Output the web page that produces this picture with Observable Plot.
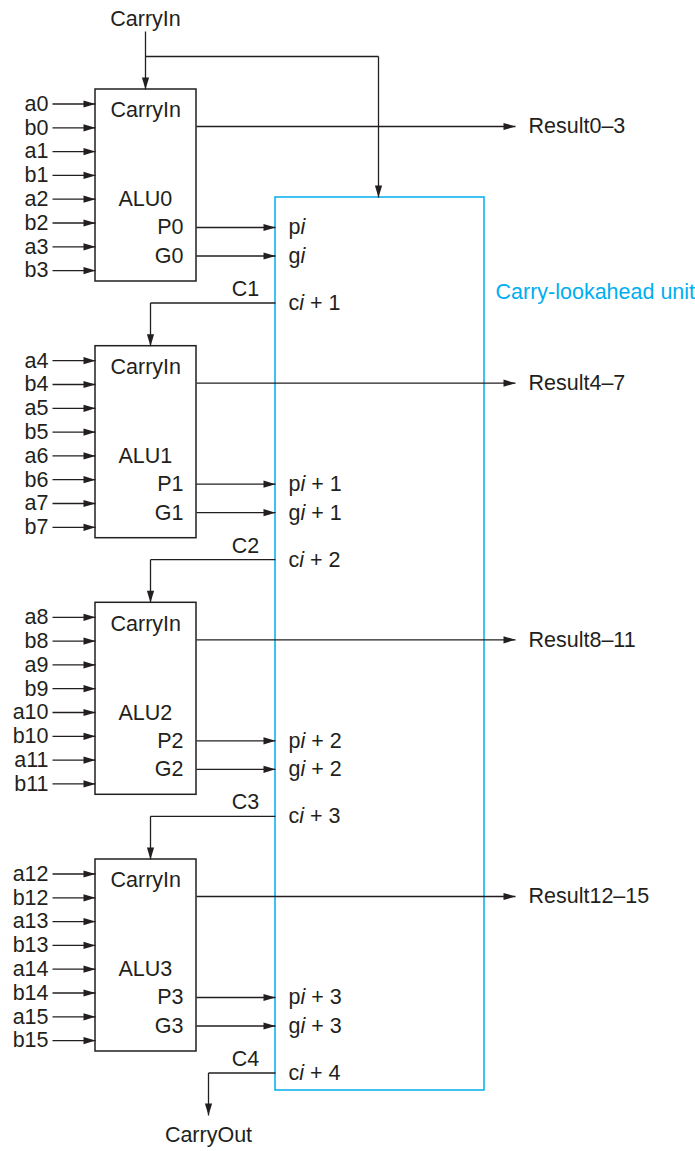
<!DOCTYPE html>
<html>
<head>
<meta charset="utf-8">
<script src="https://cdn.jsdelivr.net/npm/d3@7"></script>
<script src="https://cdn.jsdelivr.net/npm/@observablehq/plot@0.6"></script>
<style>
  html, body { margin: 0; padding: 0; background: #fff; }
  #chart svg { display: block; }
</style>
</head>
<body>
<div id="chart"></div>
<script>
// ---- Diagram content ----
const topCarryLabel = "CarryIn";
const aluNames = ["ALU0", "ALU1", "ALU2", "ALU3"];
const aluInputs = [
  ["a0", "b0", "a1", "b1", "a2", "b2", "a3", "b3"],
  ["a4", "b4", "a5", "b5", "a6", "b6", "a7", "b7"],
  ["a8", "b8", "a9", "b9", "a10", "b10", "a11", "b11"],
  ["a12", "b12", "a13", "b13", "a14", "b14", "a15", "b15"]
];
const resultLabels = ["Result0–3", "Result4–7", "Result8–11", "Result12–15"];
const pOutputs = ["P0", "P1", "P2", "P3"];
const gOutputs = ["G0", "G1", "G2", "G3"];
const claP = ["pi", "pi + 1", "pi + 2", "pi + 3"];
const claG = ["gi", "gi + 1", "gi + 2", "gi + 3"];
const claC = ["ci + 1", "ci + 2", "ci + 3", "ci + 4"];
const carryLabels = ["C1", "C2", "C3", "C4"];
const claTitle = "Carry-lookahead unit";
const carryOutLabel = "CarryOut";
const aluCarryLabel = "CarryIn";

// ---- Layout (drawing geometry) ----
const L = {
  aluTop: [89, 345.7, 602.3, 859],
  aluX1: 95, aluX2: 196, aluH: 192,
  inX1: 52, inLabelX: 48, in0: 14.5, inStep: 23.8,
  resY: 37, resTip: 515, resLabelX: 528,
  pY: 138, gY: 166.5, cY: 213.5, cLabelY: 199.5,
  claX1: 275, claX2: 484, claY1: 197, claY2: 1090,
  claLabelX: 288,
  carryDropX: 150, carryOutX: 208, carryOutTip: 1115, carryOutTextY: 1135,
  topCarryX: 145, topCarryTextY: 19, topCarryLineY1: 31, branchY: 56, branchX: 378
};
const INK = "#231f20";
const CYAN = "#00aeef";

// ---- Build mark tables ----
const links = [];
const rightArrows = [];
const downArrows = [];
const texts = [];
const rects = [];

texts.push({x: L.topCarryX, y: L.topCarryTextY, text: topCarryLabel, anchor: "middle"});
links.push({x1: L.topCarryX, y1: L.topCarryLineY1, x2: L.topCarryX, y2: L.aluTop[0]});
downArrows.push({x: L.topCarryX, y: L.aluTop[0]});
links.push({x1: L.topCarryX, y1: L.branchY, x2: L.branchX, y2: L.branchY});
links.push({x1: L.branchX, y1: L.branchY, x2: L.branchX, y2: L.claY1});
downArrows.push({x: L.branchX, y: L.claY1});

aluNames.forEach((name, k) => {
  const T = L.aluTop[k];
  rects.push({x1: L.aluX1, x2: L.aluX2, y1: T, y2: T + L.aluH, stroke: INK});
  aluInputs[k].forEach((lab, i) => {
    const y = T + L.in0 + i * L.inStep;
    links.push({x1: L.inX1, y1: y, x2: L.aluX1, y2: y});
    rightArrows.push({x: L.aluX1, y});
    texts.push({x: L.inLabelX, y, text: lab, anchor: "end"});
  });
  texts.push({x: 110, y: T + 21, text: aluCarryLabel, anchor: "start"});
  texts.push({x: 118, y: T + 110, text: name, anchor: "start"});
  texts.push({x: 183, y: T + L.pY, text: pOutputs[k], anchor: "end"});
  texts.push({x: 183, y: T + L.gY, text: gOutputs[k], anchor: "end"});
  const ry = T + L.resY;
  links.push({x1: L.aluX2, y1: ry, x2: L.resTip, y2: ry});
  rightArrows.push({x: L.resTip, y: ry});
  texts.push({x: L.resLabelX, y: ry, text: resultLabels[k], anchor: "start"});
  [[L.pY, claP[k]], [L.gY, claG[k]]].forEach(([dy, lab]) => {
    const y = T + dy;
    links.push({x1: L.aluX2, y1: y, x2: L.claX1, y2: y});
    rightArrows.push({x: L.claX1, y});
    texts.push({x: L.claLabelX, y, text: lab, anchor: "start"});
  });
  const cy = T + L.cY;
  texts.push({x: L.claLabelX, y: cy, text: claC[k], anchor: "start"});
  texts.push({x: 245, y: T + L.cLabelY, text: carryLabels[k], anchor: "middle"});
  if (k < aluNames.length - 1) {
    links.push({x1: L.claX1, y1: cy, x2: L.carryDropX, y2: cy});
    links.push({x1: L.carryDropX, y1: cy, x2: L.carryDropX, y2: L.aluTop[k + 1]});
    downArrows.push({x: L.carryDropX, y: L.aluTop[k + 1]});
  } else {
    links.push({x1: L.claX1, y1: cy, x2: L.carryOutX, y2: cy});
    links.push({x1: L.carryOutX, y1: cy, x2: L.carryOutX, y2: L.carryOutTip});
    downArrows.push({x: L.carryOutX, y: L.carryOutTip});
    texts.push({x: L.carryOutX, y: L.carryOutTextY, text: carryOutLabel, anchor: "middle"});
  }
});

rects.push({x1: L.claX1, x2: L.claX2, y1: L.claY1, y2: L.claY2, stroke: CYAN});
texts.push({x: 495, y: 292, text: claTitle, anchor: "start", fill: CYAN});

const headRight = {draw(ctx) { ctx.moveTo(0, 0); ctx.lineTo(-12, -3.6); ctx.lineTo(-12, 3.6); ctx.closePath(); }};
const headDown  = {draw(ctx) { ctx.moveTo(0, 0); ctx.lineTo(-3.6, -12); ctx.lineTo(3.6, -12); ctx.closePath(); }};

const FONT = "'Liberation Sans', Arial, Helvetica, sans-serif";
const textMark = (anchor) => Plot.text(texts.filter(d => d.anchor === anchor), {
  x: "x", y: "y", text: "text", textAnchor: anchor, lineAnchor: "middle",
  fill: d => d.fill || INK, fontSize: 21.5, fontFamily: FONT
});

const chart = Plot.plot({
  width: 695,
  height: 1151,
  margin: 0,
  x: {domain: [0, 695], range: [0, 695], axis: null},
  y: {domain: [0, 1151], range: [0, 1151], axis: null},
  marks: [
    Plot.rect(rects, {x1: "x1", x2: "x2", y1: "y1", y2: "y2", fill: "white", stroke: d => d.stroke, strokeWidth: 1.5}),
    Plot.link(links, {x1: "x1", y1: "y1", x2: "x2", y2: "y2", stroke: INK, strokeWidth: 1.3}),
    Plot.dot(rightArrows, {x: "x", y: "y", symbol: headRight, fill: INK, stroke: "none", r: 4}),
    Plot.dot(downArrows, {x: "x", y: "y", symbol: headDown, fill: INK, stroke: "none", r: 4}),
    textMark("start"),
    textMark("middle"),
    textMark("end")
  ]
});

// italicise the index "i" in the carry-lookahead unit labels
const claSet = new Set([...claP, ...claG, ...claC]);
chart.querySelectorAll("text").forEach(t => {
  const s = t.textContent;
  if (!claSet.has(s)) return;
  const m = s.match(/^([pgc])i(.*)$/);
  if (!m) return;
  t.textContent = "";
  t.setAttribute("style", "white-space: pre");
  const ns = "http://www.w3.org/2000/svg";
  const a = document.createElementNS(ns, "tspan"); a.textContent = m[1];
  const b = document.createElementNS(ns, "tspan"); b.textContent = "i"; b.setAttribute("font-style", "italic");
  t.appendChild(a); t.appendChild(b);
  if (m[2]) { const c = document.createElementNS(ns, "tspan"); c.textContent = m[2]; t.appendChild(c); }
});

document.getElementById("chart").appendChild(chart);
</script>
</body>
</html>
